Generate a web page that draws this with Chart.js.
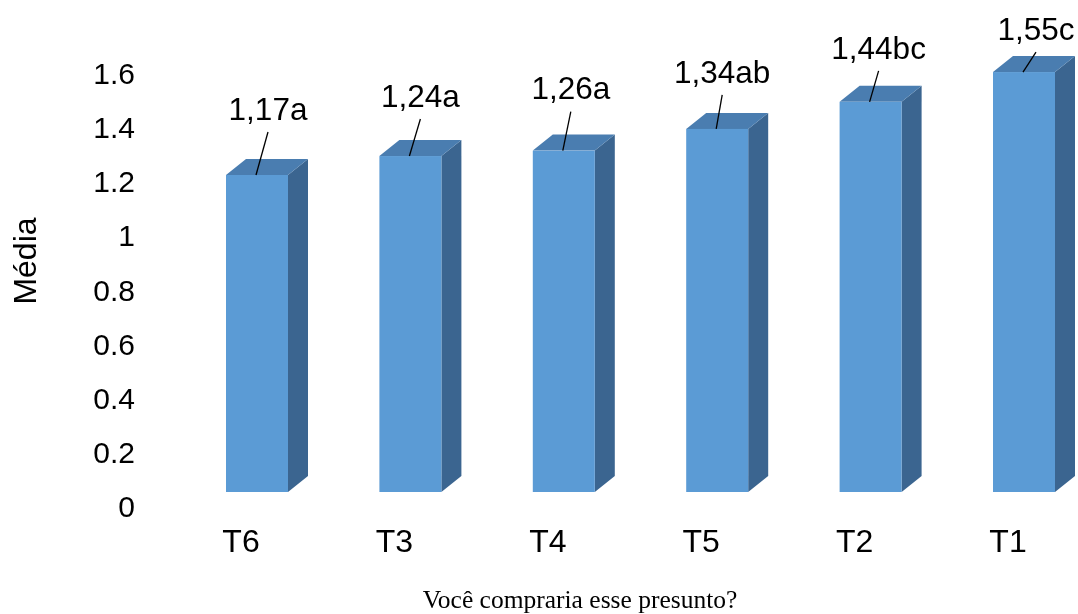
<!DOCTYPE html>
<html>
<head>
<meta charset="utf-8">
<script src="https://cdn.jsdelivr.net/npm/chart.js@4.4.1/dist/chart.umd.min.js"></script>
<style>
  body { margin: 0; background: #fff; }
  #wrap { width: 1078px; height: 614px; }
</style>
</head>
<body>
<div id="wrap"><canvas id="barChart"></canvas></div>
<script>
const categories = ['T6', 'T3', 'T4', 'T5', 'T2', 'T1'];
const medias = [1.17, 1.24, 1.26, 1.34, 1.44, 1.55];
const letras = ['a', 'a', 'a', 'ab', 'bc', 'c'];
const yTicks = [0, 0.2, 0.4, 0.6, 0.8, 1, 1.2, 1.4, 1.6];

// label position relative to the top-centre of each bar's front face
const labelOffsets = [[11, -64], [10, -58], [7, -60], [5, -55], [8, -52], [12, -41]];

const SANS = '"Liberation Sans", Arial, sans-serif';
const SERIF = '"Liberation Serif", "Times New Roman", serif';

const FRONT = '#5b9bd5';
const TOP = '#4a7db0';
const SIDE = '#3b6590';
const depthX = 20, depthY = 16;   // box depth
const shiftX = 16, shiftY = -17;  // front face sits a bit behind the axis line

const bar3d = {
  id: 'bar3d',
  afterDatasetsDraw(chart) {
    const ctx = chart.ctx;
    const meta = chart.getDatasetMeta(0);
    ctx.save();
    meta.data.forEach((bar, i) => {
      const w = bar.width;
      const l = bar.x + shiftX - w / 2, r = l + w;
      const t = bar.y + shiftY, b = bar.base + shiftY;

      // right side
      ctx.fillStyle = SIDE;
      ctx.beginPath();
      ctx.moveTo(r, t);
      ctx.lineTo(r + depthX, t - depthY);
      ctx.lineTo(r + depthX, b - depthY);
      ctx.lineTo(r, b);
      ctx.closePath();
      ctx.fill();

      // top
      ctx.fillStyle = TOP;
      ctx.beginPath();
      ctx.moveTo(l, t);
      ctx.lineTo(l + depthX, t - depthY);
      ctx.lineTo(r + depthX, t - depthY);
      ctx.lineTo(r, t);
      ctx.closePath();
      ctx.fill();

      // front
      ctx.fillStyle = FRONT;
      ctx.fillRect(l, t, w, b - t);

      // value label + leader line
      const cx = (l + r) / 2;
      const lx = cx + labelOffsets[i][0], ly = t + labelOffsets[i][1];
      ctx.strokeStyle = '#000';
      ctx.lineWidth = 1.3;
      ctx.beginPath();
      ctx.moveTo(lx, ly + 21);
      ctx.lineTo(cx - 1, t);
      ctx.stroke();

      ctx.fillStyle = '#000';
      ctx.font = '31.5px ' + SANS;
      ctx.textAlign = 'center';
      ctx.textBaseline = 'middle';
      ctx.fillText(medias[i].toFixed(2).replace('.', ',') + letras[i], lx, ly);
    });
    ctx.restore();
  },
  afterDraw(chart) {
    const ctx = chart.ctx;
    ctx.save();
    ctx.fillStyle = '#000';
    ctx.textAlign = 'center';
    ctx.textBaseline = 'middle';
    ctx.font = '25.5px ' + SERIF;
    ctx.fillText('Você compraria esse presunto?', 580, 601);

    ctx.translate(27, 261);
    ctx.rotate(-Math.PI / 2);
    ctx.font = '32px ' + SANS;
    ctx.fillText('Média', 0, 0);
    ctx.restore();
  }
};

const ctx = document.getElementById('barChart').getContext('2d');

const barChart = new Chart(ctx, {
  type: 'bar',
  data: {
    labels: categories,
    datasets: [{
      label: 'Média',
      data: medias,
      backgroundColor: 'rgba(0,0,0,0)',
      barThickness: 62
    }]
  },
  options: {
    responsive: true,
    maintainAspectRatio: false,
    animation: false,
    layout: { padding: { left: 0, right: 70, top: 75.5, bottom: 0 } },
    plugins: {
      legend: { display: false },
      tooltip: { enabled: false }
    },
    scales: {
      x: {
        offset: false,
        grid: { display: false, drawTicks: false },
        border: { display: false },
        ticks: { color: '#000', font: { family: SANS, size: 32 }, padding: 15 },
        afterFit: s => { s.height = 105; }
      },
      y: {
        min: 0,
        max: 1.6,
        grid: { display: false, drawTicks: false },
        border: { display: false },
        afterBuildTicks: s => { s.ticks = yTicks.map(v => ({ value: v })); },
        ticks: {
          color: '#000',
          font: { family: SANS, size: 30 },
          padding: 106,
          callback: v => String(v)
        },
        // big tick padding would otherwise push the plot area down
        afterFit: s => { s.width = 241; s.paddingTop = 0; s.paddingBottom = 0; }
      }
    }
  },
  plugins: [bar3d]
});
</script>
</body>
</html>
